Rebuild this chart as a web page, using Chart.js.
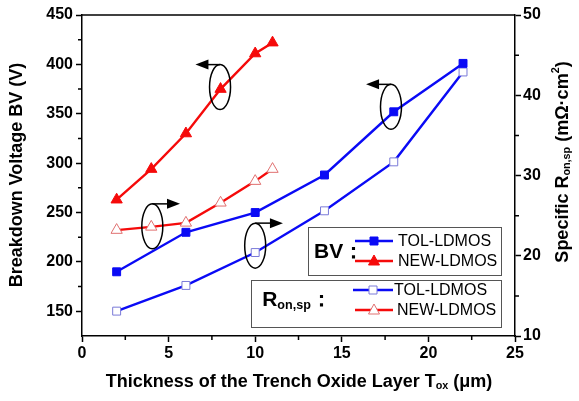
<!DOCTYPE html>
<html>
<head>
<meta charset="utf-8">
<script src="https://cdn.jsdelivr.net/npm/chart.js@4.4.1/dist/chart.umd.min.js"></script>
<style>
  html, body { margin: 0; padding: 0; background: #fff; }
  #wrap { width: 579px; height: 401px; }
</style>
</head>
<body>
<div id="wrap"><canvas id="c" width="579" height="401"></canvas></div>
<script>
// thickness values (um)
const tolThickness = [2, 6, 10, 14, 18, 22];
const newThickness = [2, 4, 6, 8, 10, 11];

// breakdown voltage (V), left axis
const bvTol = [190, 230, 250, 288, 352, 401];
const bvNew = [263, 294, 330, 375, 411, 422];

// specific on-resistance (mOhm.cm2), right axis
const ronTol = [13.1, 16.3, 20.4, 25.6, 31.7, 42.9];
const ronNew = [23.2, 23.6, 24.1, 26.6, 29.3, 30.8];

const leftTicks = [150, 200, 250, 300, 350, 400, 450];
const leftMinor = [175, 225, 275, 325, 375, 425];
const rightMinor = [15, 25, 35, 45];
const xMinor = [2.5, 7.5, 12.5, 17.5, 22.5];

const BLUE = '#0a0af5';
const RED = '#f50a0a';
const FONT = 'Arial, "Liberation Sans", sans-serif';

const pts = (xs, ys) => xs.map((x, i) => ({ x: x, y: ys[i] }));

// ellipse + arrow callouts: centre in (x, left-axis) values, arrow tip x value
const callouts = [
  { x: 7.97, y: 377, tip: 6.55 },
  { x: 4.06, y: 236, tip: 5.66 },
  { x: 10.0, y: 216.5, tip: 11.6 },
  { x: 17.84, y: 357, tip: 16.4 }
];

function richWidth(ctx, parts, size) {
  let w = 0;
  parts.forEach(p => {
    ctx.font = 'bold ' + (p.s ? size * 0.6 : size) + 'px ' + FONT;
    w += ctx.measureText(p.t).width;
  });
  return w;
}

function drawRich(ctx, parts, x, y, size) {
  let cx = x - richWidth(ctx, parts, size) / 2;
  parts.forEach(p => {
    const fs = p.s ? size * 0.6 : size;
    ctx.font = 'bold ' + fs + 'px ' + FONT;
    let dy = 0;
    if (p.s === 'sub') dy = size * 0.25;
    if (p.s === 'sup') dy = -size * 0.4;
    ctx.fillText(p.t, cx, y + dy);
    cx += ctx.measureText(p.t).width;
  });
}

function marker(ctx, type, x, y, fill, stroke) {
  ctx.save();
  ctx.lineWidth = 1;
  ctx.fillStyle = fill;
  ctx.strokeStyle = stroke;
  ctx.beginPath();
  if (type === 'rect') {
    ctx.rect(x - 4, y - 4, 8, 8);
  } else {
    ctx.moveTo(x, y - 6);
    ctx.lineTo(x + 5.5, y + 4);
    ctx.lineTo(x - 5.5, y + 4);
    ctx.closePath();
  }
  ctx.fill();
  ctx.stroke();
  ctx.restore();
}

const decor = {
  id: 'decor',
  afterDraw(chart) {
    const ctx = chart.ctx;
    const a = chart.chartArea;
    const xs = chart.scales.x, yl = chart.scales.y, yr = chart.scales.y1;
    ctx.save();
    ctx.strokeStyle = '#000';
    ctx.lineWidth = 1.5;
    // top frame line
    ctx.beginPath();
    ctx.moveTo(a.left, a.top);
    ctx.lineTo(a.right, a.top);
    ctx.stroke();
    // minor ticks
    ctx.beginPath();
    xMinor.forEach(v => { const p = xs.getPixelForValue(v); ctx.moveTo(p, a.bottom); ctx.lineTo(p, a.bottom + 4); });
    leftMinor.forEach(v => { const p = yl.getPixelForValue(v); ctx.moveTo(a.left, p); ctx.lineTo(a.left - 4, p); });
    rightMinor.forEach(v => { const p = yr.getPixelForValue(v); ctx.moveTo(a.right, p); ctx.lineTo(a.right + 4, p); });
    ctx.stroke();

    // callouts
    ctx.lineWidth = 1.5;
    ctx.fillStyle = '#000';
    callouts.forEach(c => {
      const cx = xs.getPixelForValue(c.x), cy = yl.getPixelForValue(c.y);
      const tx = xs.getPixelForValue(c.tip);
      ctx.beginPath();
      ctx.ellipse(cx, cy, 10.5, 22.5, 0, 0, Math.PI * 2);
      ctx.stroke();
      const ty = cy - 22.5;
      const dir = tx > cx ? 1 : -1;
      ctx.beginPath();
      ctx.moveTo(cx, ty);
      ctx.lineTo(tx - dir * 10, ty);
      ctx.stroke();
      ctx.beginPath();
      ctx.moveTo(tx, ty);
      ctx.lineTo(tx - dir * 13, ty - 5);
      ctx.lineTo(tx - dir * 13, ty + 5);
      ctx.closePath();
      ctx.fill();
    });

    // legend boxes
    ctx.strokeStyle = '#555';
    ctx.lineWidth = 1;
    ctx.strokeRect(308.5, 227.5, 193, 48);
    ctx.strokeRect(251.5, 280.5, 250, 47);

    ctx.fillStyle = '#000';
    ctx.textBaseline = 'middle';
    ctx.textAlign = 'left';
    ctx.font = 'bold 21px ' + FONT;
    ctx.fillText('BV：', 314, 252);
    drawRich(ctx, [{ t: 'R' }, { t: 'on,sp', s: 'sub' }, { t: '：' }], 297, 300, 21);

    const rows = [
      { y: 241, x0: 355, x1: 393, c: BLUE, m: 'rect', f: BLUE, s: BLUE, tx: 398, label: 'TOL-LDMOS' },
      { y: 261, x0: 355, x1: 393, c: RED, m: 'tri', f: RED, s: RED, tx: 398, label: 'NEW-LDMOS' },
      { y: 290, x0: 353, x1: 393, c: BLUE, m: 'rect', f: '#fff', s: '#7a7ad8', tx: 394, label: 'TOL-LDMOS' },
      { y: 310, x0: 355, x1: 393, c: RED, m: 'tri', f: '#fff', s: '#e07070', tx: 397, label: 'NEW-LDMOS' }
    ];
    rows.forEach(r => {
      ctx.strokeStyle = r.c;
      ctx.lineWidth = 2.4;
      ctx.beginPath();
      ctx.moveTo(r.x0, r.y);
      ctx.lineTo(r.x1, r.y);
      ctx.stroke();
      marker(ctx, r.m, (r.x0 + r.x1) / 2, r.y, r.f, r.s);
      ctx.fillStyle = '#000';
      ctx.font = '16px ' + FONT;
      ctx.textAlign = 'left';
      ctx.fillText(r.label, r.tx, r.y + 1);
    });

    // axis titles
    ctx.fillStyle = '#000';
    ctx.textBaseline = 'middle';
    drawRich(ctx, [{ t: 'Thickness of the Trench Oxide Layer T' }, { t: 'ox', s: 'sub' }, { t: ' (μm)' }], 299, 382, 18);

    ctx.save();
    ctx.translate(17, 175);
    ctx.rotate(-Math.PI / 2);
    drawRich(ctx, [{ t: 'Breakdown Voltage BV (V)' }], 0, 0, 18);
    ctx.restore();

    ctx.save();
    ctx.translate(563, 162);
    ctx.rotate(-Math.PI / 2);
    drawRich(ctx, [{ t: 'Specific R' }, { t: 'on,sp', s: 'sub' }, { t: ' (mΩ·cm' }, { t: '2', s: 'sup' }, { t: ')' }], 0, 0, 18);
    ctx.restore();
    ctx.restore();
  }
};

const tickFont = { family: FONT, size: 16, weight: 'bold' };

new Chart(document.getElementById('c'), {
  type: 'line',
  data: {
    datasets: [
      {
        label: 'BV TOL-LDMOS', yAxisID: 'y', data: pts(tolThickness, bvTol),
        borderColor: BLUE, backgroundColor: BLUE, borderWidth: 2.4,
        pointStyle: 'rect', pointRadius: 5.6, pointBorderWidth: 1
      },
      {
        label: 'BV NEW-LDMOS', yAxisID: 'y', data: pts(newThickness, bvNew),
        borderColor: RED, backgroundColor: RED, borderWidth: 2.4,
        pointStyle: 'triangle', pointRadius: 6.5, pointBorderWidth: 1
      },
      {
        label: 'Ron TOL-LDMOS', yAxisID: 'y1', data: pts(tolThickness, ronTol),
        borderColor: BLUE, borderWidth: 2.4,
        pointStyle: 'rect', pointRadius: 5.6, pointBorderWidth: 1,
        pointBackgroundColor: '#fff', pointBorderColor: '#7a7ad8'
      },
      {
        label: 'Ron NEW-LDMOS', yAxisID: 'y1', data: pts(newThickness, ronNew),
        borderColor: RED, borderWidth: 2.4,
        pointStyle: 'triangle', pointRadius: 6.5, pointBorderWidth: 1,
        pointBackgroundColor: '#fff', pointBorderColor: '#e07070'
      }
    ]
  },
  options: {
    responsive: false,
    animation: false,
    layout: { padding: { top: 15, left: 0, right: 0, bottom: 0 } },
    plugins: { legend: { display: false }, tooltip: { enabled: false } },
    scales: {
      x: {
        type: 'linear', min: 0, max: 25,
        ticks: { stepSize: 5, color: '#000', font: tickFont, padding: 2, maxRotation: 0 },
        grid: { drawOnChartArea: false, tickLength: 6, tickColor: '#000', tickWidth: 1.5 },
        border: { color: '#000', width: 1.5 },
        afterFit: s => { s.height = 65; }
      },
      y: {
        position: 'left', min: 125, max: 450,
        afterBuildTicks: s => { s.ticks = leftTicks.map(v => ({ value: v })); },
        ticks: { color: '#000', font: tickFont, padding: 3 },
        grid: { drawOnChartArea: false, tickLength: 6, tickColor: '#000', tickWidth: 1.5 },
        border: { color: '#000', width: 1.5 },
        afterFit: s => { s.width = 82; }
      },
      y1: {
        position: 'right', min: 10, max: 50,
        ticks: { stepSize: 10, color: '#000', font: tickFont, padding: 2 },
        grid: { drawOnChartArea: false, tickLength: 6, tickColor: '#000', tickWidth: 1.5 },
        border: { color: '#000', width: 1.5 },
        afterFit: s => { s.width = 64; }
      }
    }
  },
  plugins: [decor]
});
</script>
</body>
</html>
